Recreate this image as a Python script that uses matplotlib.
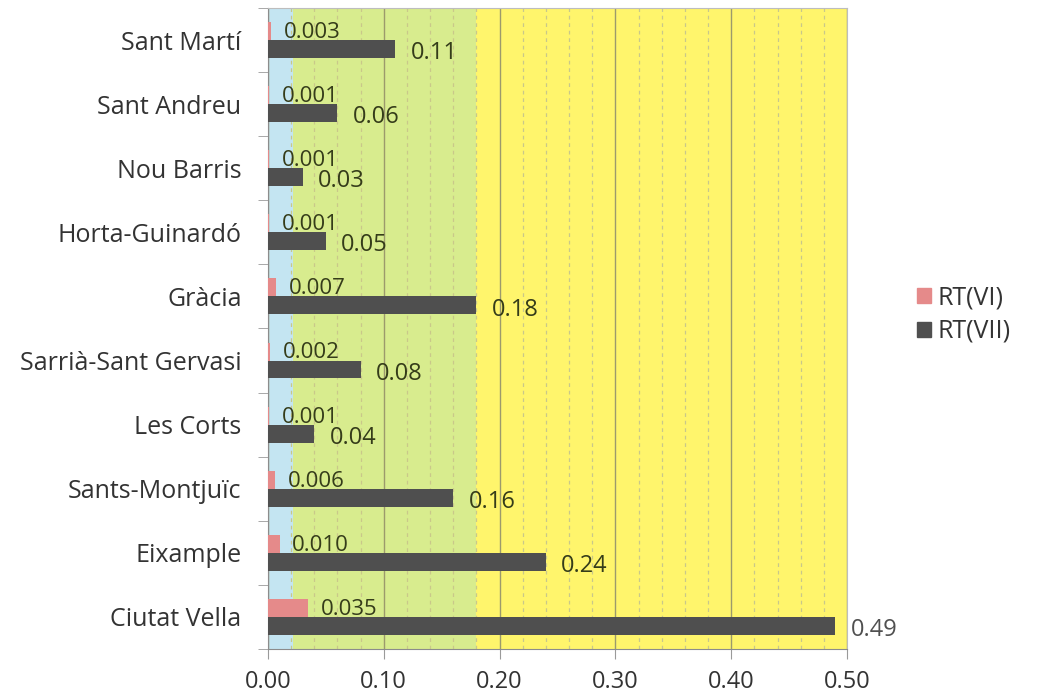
import matplotlib.pyplot as plt
from matplotlib.patches import Patch
from matplotlib.ticker import MultipleLocator, FixedLocator, FormatStrFormatter

plt.rcParams['font.family'] = ['Open Sans', 'DejaVu Sans']

districts = ["Ciutat Vella", "Eixample", "Sants-Montjuïc", "Les Corts",
             "Sarrià-Sant Gervasi", "Gràcia", "Horta-Guinardó", "Nou Barris",
             "Sant Andreu", "Sant Martí"]
rt_vi = [0.035, 0.010, 0.006, 0.001, 0.002, 0.007, 0.001, 0.001, 0.001, 0.003]
rt_vii = [0.49, 0.24, 0.16, 0.04, 0.08, 0.18, 0.05, 0.03, 0.06, 0.11]
rt_vi_labels = ["0.035", "0.010", "0.006", "0.001", "0.002", "0.007", "0.001", "0.001", "0.001", "0.003"]
rt_vii_labels = ["0.49", "0.24", "0.16", "0.04", "0.08", "0.18", "0.05", "0.03", "0.06", "0.11"]

# risk bands shown behind the bars
band_edges = [0.0, 0.022, 0.18, 0.50]
band_colors = ["#c4e5f2", "#d8ec8e", "#fff56c"]

fig = plt.figure(figsize=(10.5, 6.99), dpi=100)
ax = fig.add_axes([0.2552, 0.0715, 0.5515, 0.9171])

for lo, hi, c in zip(band_edges[:-1], band_edges[1:], band_colors):
    ax.axvspan(lo, hi, color=c, zorder=0, lw=0)

y = list(range(len(districts)))
h = 0.28
pink = "#e58a8a"
dark = "#4f4f4f"
ax.barh([v + h / 2 for v in y], rt_vi, height=h, color=pink, zorder=3, label="RT(VI)")
ax.barh([v - h / 2 for v in y], rt_vii, height=h, color=dark, zorder=3, label="RT(VII)")

txt_col = "#353c1a"
for yi, v, lab in zip(y, rt_vi, rt_vi_labels):
    ax.annotate(lab, (v, yi + h / 2), xytext=(9, -1), textcoords="offset points",
                ha="left", va="center", fontsize=16, color=txt_col, zorder=4)
for yi, v, lab in zip(y, rt_vii, rt_vii_labels):
    col = "#505050" if v > 0.45 else txt_col
    ax.annotate(lab, (v, yi - h / 2), xytext=(11, -3), textcoords="offset points",
                ha="left", va="center", fontsize=17, color=col, zorder=4)

ax.set_xlim(0, 0.5)
ax.set_ylim(-0.5, len(districts) - 0.5)
ax.xaxis.set_major_locator(MultipleLocator(0.1))
ax.xaxis.set_minor_locator(MultipleLocator(0.02))
ax.xaxis.set_major_formatter(FormatStrFormatter("%.2f"))
ax.set_yticks(y)
ax.set_yticklabels(districts, fontsize=18, color="#333333")
ax.yaxis.set_minor_locator(FixedLocator([k - 0.5 for k in range(len(districts) + 1)]))
ax.tick_params(axis="y", which="major", length=0, pad=19)
ax.tick_params(axis="y", which="minor", length=7, color="#9a9a9a", direction="out")
ax.tick_params(axis="x", which="major", length=7, color="#9a9a9a", labelsize=17,
               labelcolor="#333333", pad=8)
ax.tick_params(axis="x", which="minor", length=0)

ax.grid(axis="x", which="major", color="#9c9a6c", lw=1.0, zorder=1)
ax.grid(axis="x", which="minor", color="#c9c88a", lw=0.9, ls=(0, (3, 3)), zorder=1)
ax.set_axisbelow(True)

for s in ["left", "bottom"]:
    ax.spines[s].set_color("#8c8c8c")
for s in ["top", "right"]:
    ax.spines[s].set_color("#bdbdbd")

handles = [Patch(color=pink, label="RT(VI)"), Patch(color=dark, label="RT(VII)")]
fig.legend(handles=handles, loc="center left", bbox_to_anchor=(0.852, 0.55),
           frameon=False, fontsize=18, handlelength=0.55, handleheight=0.55,
           handletextpad=0.25, labelspacing=0.35, labelcolor="#333333")

fig.savefig("out.png", dpi=100, facecolor="white")
